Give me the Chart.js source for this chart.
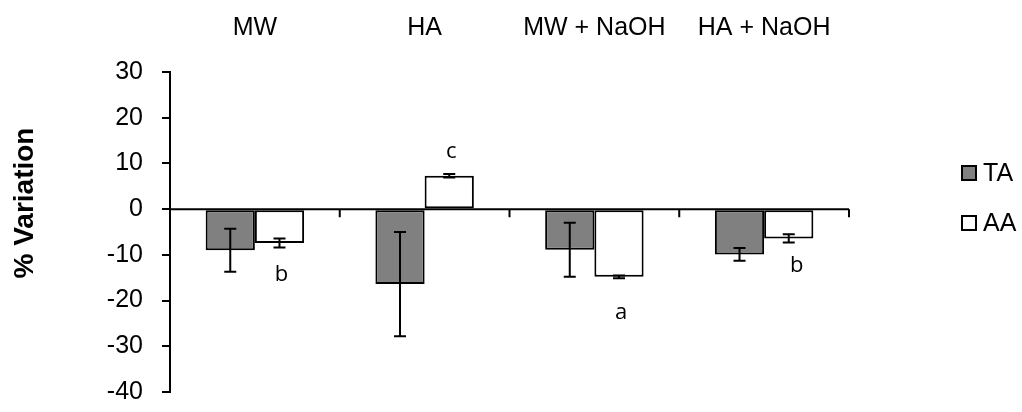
<!DOCTYPE html>
<html>
<head>
<meta charset="utf-8">
<script src="https://cdn.jsdelivr.net/npm/chart.js@4"></script>
<style>
  html, body { margin: 0; padding: 0; background: #fff; }
  #wrap { width: 1022px; height: 412px; }
</style>
</head>
<body>
<div id="wrap"><canvas id="variationChart" width="1022" height="412"></canvas></div>
<script>
// chart data
var categories = ['MW', 'HA', 'MW + NaOH', 'HA + NaOH'];
var seriesNames = ['TA', 'AA'];
var taValues = [-9.0, -16.4, -8.9, -9.9];
var taErrors = [4.7, 11.4, 5.9, 1.4];
var aaValues = [-7.4, 7.3, -14.8, -6.4];
var aaErrors = [1.0, 0.4, 0.3, 0.9];
var aaLetters = ['b', 'c', 'a', 'b'];
var aaLetterValues = [-14.3, 12.5, -22.6, -12.3];
var yTicks = { min: -40, max: 30, step: 10 };
var yTitle = '% Variation';

var FONT = "'Liberation Sans', Arial, sans-serif";

// zero line with category tick marks
var zeroAxisPlugin = {
    id: 'zeroAxis',
    beforeDatasetsDraw: function(chart) {
        var ctx = chart.ctx;
        var area = chart.chartArea;
        var y0 = chart.scales.y.getPixelForValue(0);
        var n = categories.length;
        var step = (area.right - area.left) / n;
        ctx.save();
        ctx.strokeStyle = '#000';
        ctx.lineWidth = 2;
        ctx.beginPath();
        ctx.moveTo(area.left, y0);
        ctx.lineTo(area.right, y0);
        for (var i = 1; i <= n; i++) {
            var bx = area.left + i * step;
            ctx.moveTo(bx, y0);
            ctx.lineTo(bx, y0 + 8);
        }
        ctx.stroke();
        ctx.restore();
    }
};

// error bars + letters
var errorBarPlugin = {
    id: 'errorBars',
    afterDatasetsDraw: function(chart) {
        var ctx = chart.ctx;
        var yScale = chart.scales.y;
        var errs = [taErrors, aaErrors];
        ctx.save();
        ctx.strokeStyle = '#000';
        ctx.lineWidth = 2;
        chart.data.datasets.forEach(function(ds, di) {
            var meta = chart.getDatasetMeta(di);
            meta.data.forEach(function(bar, i) {
                var v = ds.data[i];
                var e = errs[di][i];
                var yTop = yScale.getPixelForValue(v + e);
                var yBot = yScale.getPixelForValue(v - e);
                ctx.beginPath();
                ctx.moveTo(bar.x, yTop);
                ctx.lineTo(bar.x, yBot);
                ctx.moveTo(bar.x - 6, yTop);
                ctx.lineTo(bar.x + 6, yTop);
                ctx.moveTo(bar.x - 6, yBot);
                ctx.lineTo(bar.x + 6, yBot);
                ctx.stroke();
            });
        });
        // significance letters over the AA bars
        var aaMeta = chart.getDatasetMeta(1);
        ctx.fillStyle = '#000';
        ctx.font = "22px 'Open Sans', sans-serif";
        ctx.textAlign = 'center';
        ctx.textBaseline = 'middle';
        aaLetters.forEach(function(letter, i) {
            ctx.fillText(letter, aaMeta.data[i].x + (i === 3 ? 8 : 2), yScale.getPixelForValue(aaLetterValues[i]));
        });
        ctx.restore();
    }
};

// y title and legend on the right
var sideTextPlugin = {
    id: 'sideText',
    afterDraw: function(chart) {
        var ctx = chart.ctx;
        ctx.save();
        ctx.fillStyle = '#000';
        ctx.font = 'bold 28px ' + FONT;
        ctx.textAlign = 'center';
        ctx.textBaseline = 'middle';
        ctx.translate(25, 203);
        ctx.rotate(-Math.PI / 2);
        ctx.fillText(yTitle, 0, 0);
        ctx.restore();

        var x = 962;
        var rows = [173, 223];
        ctx.save();
        ctx.font = '25px ' + FONT;
        ctx.textBaseline = 'middle';
        ctx.textAlign = 'left';
        chart.data.datasets.forEach(function(ds, i) {
            var cy = rows[i];
            ctx.fillStyle = ds.backgroundColor;
            ctx.fillRect(x, cy - 7, 14, 14);
            ctx.strokeStyle = '#000';
            ctx.lineWidth = 2;
            ctx.strokeRect(x, cy - 7, 14, 14);
            ctx.fillStyle = '#000';
            ctx.fillText(ds.label, x + 21, cy + 1);
        });
        ctx.restore();
    }
};

var ctx = document.getElementById('variationChart').getContext('2d');
var variationChart = new Chart(ctx, {
    type: 'bar',
    data: {
        labels: categories,
        datasets: [
            {
                label: seriesNames[0],
                data: taValues,
                backgroundColor: '#808080',
                borderColor: '#000',
                borderWidth: 2,
                borderSkipped: false
            },
            {
                label: seriesNames[1],
                data: aaValues,
                backgroundColor: '#ffffff',
                borderColor: '#000',
                borderWidth: 2,
                borderSkipped: false
            }
        ]
    },
    options: {
        responsive: false,
        animation: false,
        devicePixelRatio: 1,
        layout: { padding: { top: 0, left: 0, right: 173, bottom: 20 } },
        datasets: { bar: { categoryPercentage: 0.58, barPercentage: 1.0 } },
        plugins: {
            legend: { display: false },
            tooltip: { enabled: false }
        },
        scales: {
            x: {
                position: 'top',
                grid: { display: false, drawTicks: false },
                border: { display: false },
                ticks: {
                    color: '#000',
                    font: { family: FONT, size: 25 },
                    padding: 29,
                    maxRotation: 0,
                    autoSkip: false
                },
                afterFit: function(scale) { scale.height = 72; }
            },
            y: {
                min: yTicks.min,
                max: yTicks.max,
                grid: {
                    drawOnChartArea: false,
                    drawTicks: true,
                    tickLength: 8,
                    color: '#000',
                    lineWidth: 2
                },
                border: { display: true, color: '#000', width: 2 },
                ticks: {
                    stepSize: yTicks.step,
                    color: '#000',
                    font: { family: FONT, size: 25 },
                    padding: 19
                },
                afterFit: function(scale) {
                    scale.width = 170;
                    scale.paddingTop = 0;
                    scale.paddingBottom = 0;
                }
            }
        }
    },
    plugins: [zeroAxisPlugin, errorBarPlugin, sideTextPlugin]
});
</script>
</body>
</html>
